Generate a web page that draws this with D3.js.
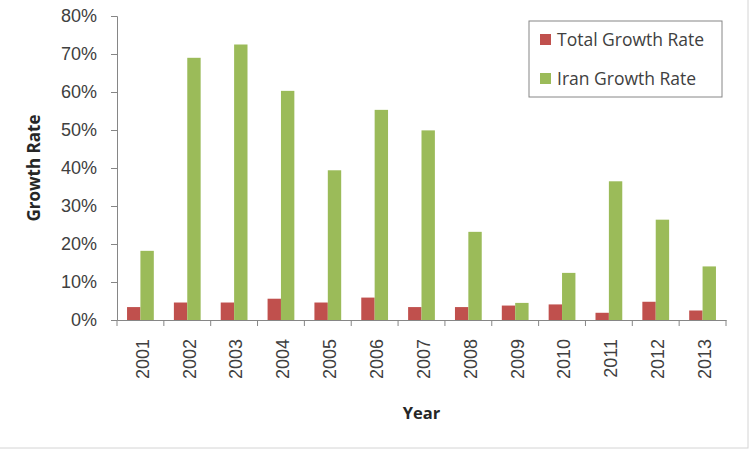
<!DOCTYPE html>
<html>
<head>
<meta charset="utf-8">
<script src="https://cdn.jsdelivr.net/npm/d3@7"></script>
<style>
  body { margin: 0; background: #fff; }
  svg { display: block; }
</style>
</head>
<body>
<div id="chart"></div>
<script>
// Données
const years = ["2001", "2002", "2003", "2004", "2005", "2006", "2007", "2008", "2009", "2010", "2011", "2012", "2013"];
const seriesNames = ["Total Growth Rate", "Iran Growth Rate"];
const totalGrowth = [0.034, 0.046, 0.046, 0.056, 0.046, 0.059, 0.034, 0.034, 0.038, 0.041, 0.019, 0.048, 0.025];
const iranGrowth = [0.182, 0.690, 0.725, 0.603, 0.394, 0.553, 0.499, 0.232, 0.045, 0.124, 0.365, 0.264, 0.141];
const yTicks = [0, 0.1, 0.2, 0.3, 0.4, 0.5, 0.6, 0.7, 0.8];

const colors = ["#C0504D", "#9BBB59"];
const axisColor = "#868686";

const width = 750;
const height = 450;
const margin = { top: 16, right: 24, bottom: 130, left: 117 };

const svg = d3.select("#chart")
    .append("svg")
    .attr("width", width)
    .attr("height", height);

// cadre de l'image
svg.append("rect")
    .attr("x", -1).attr("y", -1)
    .attr("width", 749).attr("height", 449)
    .attr("fill", "none")
    .attr("stroke", "#d4d4d4");

const plot = svg.append("g")
    .attr("transform", `translate(${margin.left}, ${margin.top})`);

const plotW = 726 - margin.left;
const plotH = 320 - margin.top;

// Échelles
const x0 = d3.scaleBand()
    .domain(years)
    .range([0, plotW])
    .padding(0);

const x1 = d3.scaleBand()
    .domain(seriesNames)
    .range([0, x0.bandwidth()])
    .paddingInner(0)
    .paddingOuter(0.75);

const y = d3.scaleLinear()
    .domain([0, 0.8])
    .range([plotH, 0]);

// Barres
const rows = years.map((yr, i) => ({
    year: yr,
    values: [
        { name: seriesNames[0], value: totalGrowth[i] },
        { name: seriesNames[1], value: iranGrowth[i] }
    ]
}));

const groups = plot.selectAll(".year")
    .data(rows)
    .join("g")
    .attr("class", "year")
    .attr("transform", d => `translate(${x0(d.year)}, 0)`);

groups.selectAll("rect")
    .data(d => d.values)
    .join("rect")
    .attr("x", d => x1(d.name))
    .attr("y", d => y(d.value))
    .attr("width", x1.bandwidth())
    .attr("height", d => plotH - y(d.value))
    .attr("fill", (d, i) => colors[i]);

// Axe Y
const yAxis = plot.append("g")
    .call(d3.axisLeft(y)
        .tickValues(yTicks)
        .tickFormat(d3.format(".0%"))
        .tickSize(6)
        .tickPadding(14));

yAxis.select(".domain").attr("stroke", axisColor);
yAxis.selectAll(".tick line").attr("stroke", axisColor);
yAxis.selectAll(".tick text")
    .attr("font-family", "'Liberation Sans', Arial, sans-serif")
    .attr("font-size", "18px")
    .attr("fill", "#404040");

// Axe X
const xAxis = plot.append("g")
    .attr("transform", `translate(0, ${plotH})`)
    .call(d3.axisBottom(x0).tickSize(0).tickSizeOuter(0));

xAxis.select(".domain").attr("stroke", axisColor);
xAxis.selectAll(".tick text")
    .attr("font-family", "'Liberation Sans', Arial, sans-serif")
    .attr("font-size", "18px")
    .attr("fill", "#404040")
    .attr("transform", "rotate(-90)")
    .attr("text-anchor", "end")
    .attr("x", -19)
    .attr("y", 2)
    .attr("dy", "0.35em");

// graduations aux limites des catégories
const bounds = years.map(yr => x0(yr)).concat([plotW]);
xAxis.selectAll(".bound")
    .data(bounds)
    .join("line")
    .attr("class", "bound")
    .attr("x1", d => d).attr("x2", d => d)
    .attr("y1", 0).attr("y2", 6)
    .attr("stroke", axisColor);

// Titres des axes
svg.append("text")
    .attr("transform", `translate(40, ${margin.top + plotH / 2}) rotate(-90)`)
    .attr("text-anchor", "middle")
    .attr("font-family", "'Open Sans', sans-serif")
    .attr("font-weight", "bold")
    .attr("font-size", "17px")
    .attr("fill", "#262626")
    .text("Growth Rate");

svg.append("text")
    .attr("x", margin.left + plotW / 2)
    .attr("y", 419)
    .attr("text-anchor", "middle")
    .attr("font-family", "'Open Sans', sans-serif")
    .attr("font-weight", "bold")
    .attr("font-size", "16.5px")
    .attr("fill", "#262626")
    .text("Year");

// Légende
const legend = svg.append("g")
    .attr("transform", "translate(529, 21)");

legend.append("rect")
    .attr("width", 193)
    .attr("height", 76)
    .attr("fill", "#fff")
    .attr("stroke", axisColor);

const items = legend.selectAll(".legend")
    .data(seriesNames)
    .join("g")
    .attr("class", "legend")
    .attr("transform", (d, i) => `translate(11, ${13 + i * 39})`);

items.append("rect")
    .attr("width", 11)
    .attr("height", 11)
    .attr("fill", (d, i) => colors[i]);

items.append("text")
    .attr("x", 17)
    .attr("y", 12)
    .attr("font-family", "'Open Sans', sans-serif")
    .attr("font-size", "17.5px")
    .attr("fill", "#404040")
    .text(d => d);
</script>
</body>
</html>
